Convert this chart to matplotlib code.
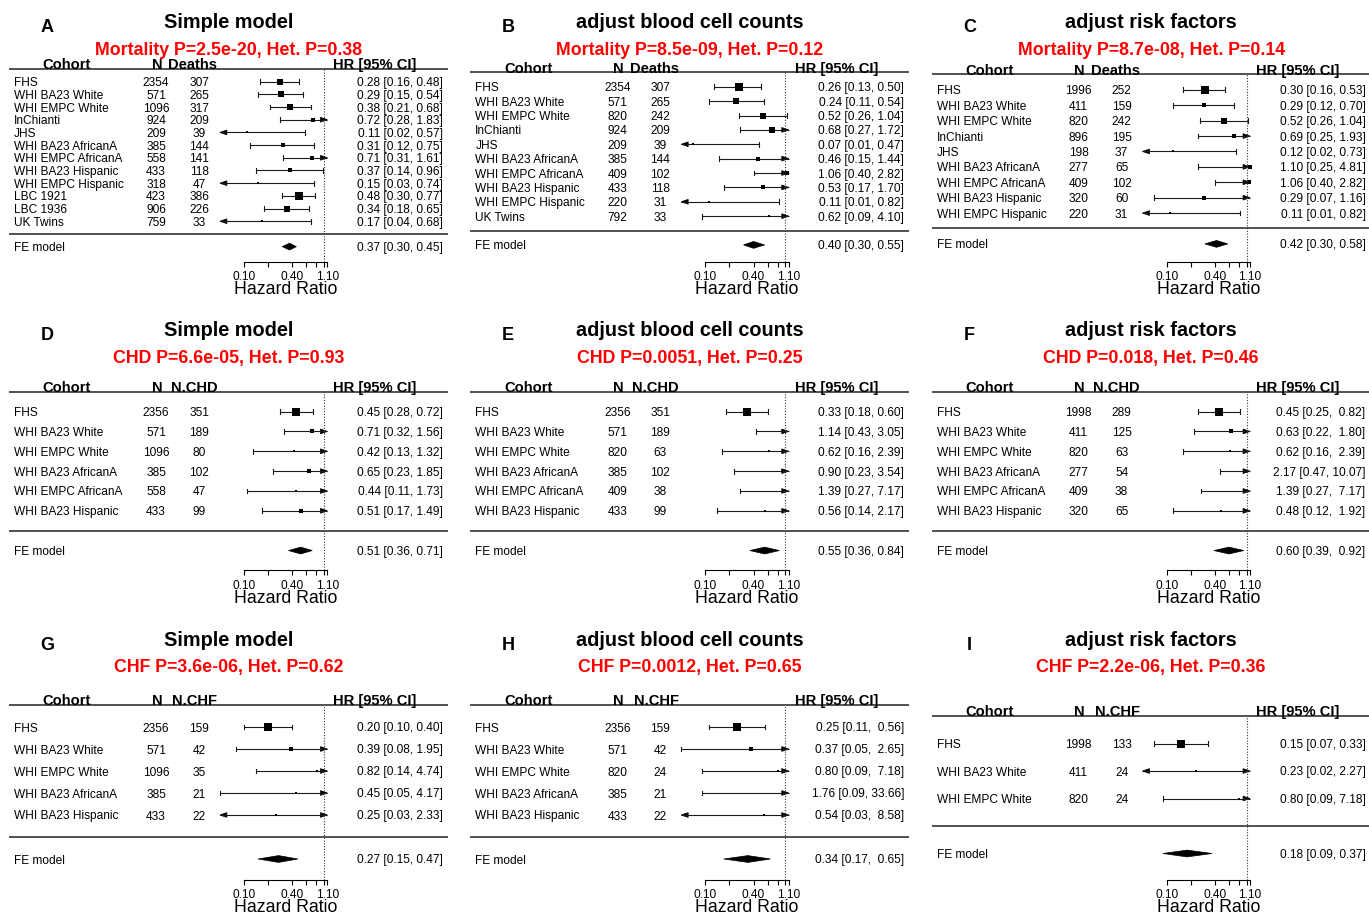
import numpy as np
import matplotlib
matplotlib.use('Agg')
import matplotlib.pyplot as plt
import matplotlib.transforms as mtransforms
from matplotlib.patches import Polygon
from matplotlib.ticker import NullLocator

plt.rcParams['font.family'] = ['Liberation Sans', 'DejaVu Sans']

# ------------------------------------------------------------------ data
titles = ['Simple model', 'adjust blood cell counts', 'adjust risk factors']
letters = ['A', 'B', 'C', 'D', 'E', 'F', 'G', 'H', 'I']
event_heads = ['Deaths', 'N.CHD', 'N.CHF']
subtitles = ['Mortality P=2.5e-20, Het. P=0.38', 'Mortality P=8.5e-09, Het. P=0.12',
             'Mortality P=8.7e-08, Het. P=0.14',
             'CHD P=6.6e-05, Het. P=0.93', 'CHD P=0.0051, Het. P=0.25', 'CHD P=0.018, Het. P=0.46',
             'CHF P=3.6e-06, Het. P=0.62', 'CHF P=0.0012, Het. P=0.65', 'CHF P=2.2e-06, Het. P=0.36']

# A: mortality, simple model
cohort_A = ['FHS', 'WHI BA23 White', 'WHI EMPC White', 'InChianti', 'JHS', 'WHI BA23 AfricanA',
            'WHI EMPC AfricanA', 'WHI BA23 Hispanic', 'WHI EMPC Hispanic', 'LBC 1921', 'LBC 1936', 'UK Twins']
n_A = [2354, 571, 1096, 924, 209, 385, 558, 433, 318, 423, 906, 759]
ev_A = [307, 265, 317, 209, 39, 144, 141, 118, 47, 386, 226, 33]
hr_A = [0.28, 0.29, 0.38, 0.72, 0.11, 0.31, 0.71, 0.37, 0.15, 0.48, 0.34, 0.17]
lo_A = [0.16, 0.15, 0.21, 0.28, 0.02, 0.12, 0.31, 0.14, 0.03, 0.30, 0.18, 0.04]
hi_A = [0.48, 0.54, 0.68, 1.83, 0.57, 0.75, 1.61, 0.96, 0.74, 0.77, 0.65, 0.68]
fe_A = [0.37, 0.30, 0.45]

# B: mortality, adjusted for blood cell counts
cohort_B = ['FHS', 'WHI BA23 White', 'WHI EMPC White', 'InChianti', 'JHS', 'WHI BA23 AfricanA',
            'WHI EMPC AfricanA', 'WHI BA23 Hispanic', 'WHI EMPC Hispanic', 'UK Twins']
n_B = [2354, 571, 820, 924, 209, 385, 409, 433, 220, 792]
ev_B = [307, 265, 242, 209, 39, 144, 102, 118, 31, 33]
hr_B = [0.26, 0.24, 0.52, 0.68, 0.07, 0.46, 1.06, 0.53, 0.11, 0.62]
lo_B = [0.13, 0.11, 0.26, 0.27, 0.01, 0.15, 0.40, 0.17, 0.01, 0.09]
hi_B = [0.50, 0.54, 1.04, 1.72, 0.47, 1.44, 2.82, 1.70, 0.82, 4.10]
fe_B = [0.40, 0.30, 0.55]

# C: mortality, adjusted for risk factors
cohort_C = ['FHS', 'WHI BA23 White', 'WHI EMPC White', 'InChianti', 'JHS', 'WHI BA23 AfricanA',
            'WHI EMPC AfricanA', 'WHI BA23 Hispanic', 'WHI EMPC Hispanic']
n_C = [1996, 411, 820, 896, 198, 277, 409, 320, 220]
ev_C = [252, 159, 242, 195, 37, 65, 102, 60, 31]
hr_C = [0.30, 0.29, 0.52, 0.69, 0.12, 1.10, 1.06, 0.29, 0.11]
lo_C = [0.16, 0.12, 0.26, 0.25, 0.02, 0.25, 0.40, 0.07, 0.01]
hi_C = [0.53, 0.70, 1.04, 1.93, 0.73, 4.81, 2.82, 1.16, 0.82]
fe_C = [0.42, 0.30, 0.58]

# D-F: CHD
cohort_D = ['FHS', 'WHI BA23 White', 'WHI EMPC White', 'WHI BA23 AfricanA', 'WHI EMPC AfricanA',
            'WHI BA23 Hispanic']
n_D = [2356, 571, 1096, 385, 558, 433]
ev_D = [351, 189, 80, 102, 47, 99]
hr_D = [0.45, 0.71, 0.42, 0.65, 0.44, 0.51]
lo_D = [0.28, 0.32, 0.13, 0.23, 0.11, 0.17]
hi_D = [0.72, 1.56, 1.32, 1.85, 1.73, 1.49]
fe_D = [0.51, 0.36, 0.71]

cohort_E = cohort_D
n_E = [2356, 571, 820, 385, 409, 433]
ev_E = [351, 189, 63, 102, 38, 99]
hr_E = [0.33, 1.14, 0.62, 0.90, 1.39, 0.56]
lo_E = [0.18, 0.43, 0.16, 0.23, 0.27, 0.14]
hi_E = [0.60, 3.05, 2.39, 3.54, 7.17, 2.17]
fe_E = [0.55, 0.36, 0.84]

cohort_F = cohort_D
n_F = [1998, 411, 820, 277, 409, 320]
ev_F = [289, 125, 63, 54, 38, 65]
hr_F = [0.45, 0.63, 0.62, 2.17, 1.39, 0.48]
lo_F = [0.25, 0.22, 0.16, 0.47, 0.27, 0.12]
hi_F = [0.82, 1.80, 2.39, 10.07, 7.17, 1.92]
fe_F = [0.60, 0.39, 0.92]

# G-I: CHF
cohort_G = ['FHS', 'WHI BA23 White', 'WHI EMPC White', 'WHI BA23 AfricanA', 'WHI BA23 Hispanic']
n_G = [2356, 571, 1096, 385, 433]
ev_G = [159, 42, 35, 21, 22]
hr_G = [0.20, 0.39, 0.82, 0.45, 0.25]
lo_G = [0.10, 0.08, 0.14, 0.05, 0.03]
hi_G = [0.40, 1.95, 4.74, 4.17, 2.33]
fe_G = [0.27, 0.15, 0.47]

cohort_H = cohort_G
n_H = [2356, 571, 820, 385, 433]
ev_H = [159, 42, 24, 21, 22]
hr_H = [0.25, 0.37, 0.80, 1.76, 0.54]
lo_H = [0.11, 0.05, 0.09, 0.09, 0.03]
hi_H = [0.56, 2.65, 7.18, 33.66, 8.58]
fe_H = [0.34, 0.17, 0.65]

cohort_I = ['FHS', 'WHI BA23 White', 'WHI EMPC White']
n_I = [1998, 411, 820]
ev_I = [133, 24, 24]
hr_I = [0.15, 0.23, 0.80]
lo_I = [0.07, 0.02, 0.09]
hi_I = [0.33, 2.27, 7.18]
fe_I = [0.18, 0.09, 0.37]

panels = [
    (cohort_A, n_A, ev_A, hr_A, lo_A, hi_A, fe_A),
    (cohort_B, n_B, ev_B, hr_B, lo_B, hi_B, fe_B),
    (cohort_C, n_C, ev_C, hr_C, lo_C, hi_C, fe_C),
    (cohort_D, n_D, ev_D, hr_D, lo_D, hi_D, fe_D),
    (cohort_E, n_E, ev_E, hr_E, lo_E, hi_E, fe_E),
    (cohort_F, n_F, ev_F, hr_F, lo_F, hi_F, fe_F),
    (cohort_G, n_G, ev_G, hr_G, lo_G, hi_G, fe_G),
    (cohort_H, n_H, ev_H, hr_H, lo_H, hi_H, fe_H),
    (cohort_I, n_I, ev_I, hr_I, lo_I, hi_I, fe_I),
]

axis_ticks = [0.1, 0.2, 0.4, 0.6, 0.8, 1.0, 1.1]
axis_labels = ['0.10', '', '0.40', '', '', '', '1.10']

# ------------------------------------------------------------------ layout (pixels)
W, H = 1369, 915
col_left = [9, 470.3, 931.6]
panel_w = 439
row_top = [43.6, 352, 661]
row_bot = [259.3, 570.4, 881]
axis_shift = [2.5, 0, -1.5]    # HR axis offset below the plot region
PPU = 34.8                     # pixels per log unit on the HR axis
LOW, HIGH = 0.05, 1.1          # CI clipping limits
XMIN = 0.1 * np.exp(-235 / PPU)
XMAX = 0.1 * np.exp(204 / PPU)
PT = 72 / 100                  # points per pixel

fig = plt.figure(figsize=(W / 100, H / 100), dpi=100)
fig.patch.set_facecolor('white')


def forest(ax, cohorts, n, ev, hr, lo, hi, fe, ev_head, shift):
    k = len(cohorts)
    hr, lo, hi = np.array(hr), np.array(lo), np.array(hi)
    ax.set_xscale('log')
    ax.set_xlim(XMIN, XMAX)
    ax.set_ylim(-2, k + 3)
    upy = (k + 5) / ax.bbox.height          # y units per pixel
    upx = np.log(XMAX / XMIN) / ax.bbox.width  # log units per pixel
    trans = mtransforms.blended_transform_factory(ax.transAxes, ax.transData)

    rows = np.arange(k, 0, -1)
    se = (np.log(hi) - np.log(lo)) / (2 * 1.96)
    w = 1 / se
    psize = 0.5 + (w - w.min()) / (w.max() - w.min())

    cap = 2.4 * upy
    ah = 2.4 * upy
    al = np.exp(7 * upx)
    wu = max(len('%.2f' % u) for u in list(hi) + [fe[2]])

    for y, est, l, u, ps, name, nn, ee in zip(rows, hr, lo, hi, psize, cohorts, n, ev):
        a, b = max(l, LOW), min(u, HIGH)
        ax.plot([a, b], [y, y], color='#1a1a1a', lw=0.8, solid_capstyle='butt')
        if l >= LOW:
            ax.plot([l, l], [y - cap, y + cap], color='#1a1a1a', lw=0.8)
        else:
            ax.add_patch(Polygon([(LOW, y), (LOW * al, y + ah), (LOW * al, y - ah)],
                                 closed=True, fc='k', ec='k', lw=0.5))
        if u <= HIGH:
            ax.plot([u, u], [y - cap, y + cap], color='#1a1a1a', lw=0.8)
        else:
            ax.add_patch(Polygon([(HIGH, y), (HIGH / al, y + ah), (HIGH / al, y - ah)],
                                 closed=True, fc='k', ec='k', lw=0.5))
        if LOW <= est <= HIGH:
            ax.plot(est, y, 's', ms=ps * 4.7 * PT, color='k', mew=0)

        ax.text(0.0114, y, name, transform=trans, ha='left', va='center_baseline', fontsize=8.6)
        ax.text(0.335, y, str(nn), transform=trans, ha='center', va='center_baseline', fontsize=8.6)
        ax.text(0.433, y, str(ee), transform=trans, ha='center', va='center_baseline', fontsize=8.6)
        ax.text(0.9886, y, '%.2f [%.2f, %*.2f]' % (est, l, wu, u), transform=trans,
                ha='right', va='center_baseline', fontsize=8.6)

    # pooled fixed-effect estimate
    dh = 3.4 * upy
    ax.add_patch(Polygon([(fe[1], -1), (fe[0], -1 + dh), (fe[2], -1), (fe[0], -1 - dh)],
                         closed=True, fc='k', ec='k', lw=0.5))
    ax.text(0.0114, -1, 'FE model', transform=trans, ha='left', va='center_baseline', fontsize=8.6)
    ax.text(0.9886, -1, '%.2f [%.2f, %*.2f]' % (fe[0], fe[1], wu, fe[2]), transform=trans,
            ha='right', va='center_baseline', fontsize=8.6)

    # separators, reference line
    ax.axhline(k + 1, color='#333333', lw=1.2)
    ax.axhline(0, color='#333333', lw=1.2)
    ax.plot([1, 1], [-2 - shift * upy, k + 1], color='#333333', lw=0.8, ls=(0, (1, 1.5)),
            clip_on=False)

    # column headers
    hy = k + 1 - 0.3 * upy
    hd = dict(transform=trans, va='baseline', fontsize=10.6, fontweight='bold')
    ax.text(0.132, hy, 'Cohort', ha='center', **hd)
    ax.text(0.337, hy, 'N', ha='center', **hd)
    ax.text(0.4745, hy, ev_head, ha='right', **hd)
    ax.text(0.834, hy, 'HR [95% CI]', ha='center', **hd)

    # HR axis
    for s in ['top', 'left', 'right']:
        ax.spines[s].set_visible(False)
    ax.spines['bottom'].set_position(('outward', shift * PT))
    ax.spines['bottom'].set_bounds(0.1, 1.1)
    ax.spines['bottom'].set_linewidth(0.8)
    ax.set_xticks(axis_ticks)
    ax.set_xticklabels(axis_labels)
    ax.xaxis.set_minor_locator(NullLocator())
    ax.tick_params(axis='x', direction='out', length=3.6, width=0.8, pad=3.0, labelsize=8.6)
    ax.set_yticks([])
    ax.patch.set_alpha(0)
    ax.annotate('Hazard Ratio', xy=(np.sqrt(0.1 * 1.1), -2), xycoords='data',
                xytext=(0, -(shift + 26) * PT), textcoords='offset points',
                ha='center', va='center_baseline', fontsize=12.7)


for i, data in enumerate(panels):
    r, c = divmod(i, 3)
    x0 = col_left[c]
    ax = fig.add_axes([x0 / W, 1 - row_bot[r] / H, panel_w / W, (row_bot[r] - row_top[r]) / H])
    forest(ax, *data, event_heads[r], axis_shift[r])

    cx = x0 + panel_w / 2
    fig.text(cx / W, 1 - (row_top[r] - 23) / H, titles[c], ha='center', va='center_baseline',
             fontsize=14.3, fontweight='bold')
    fig.text(cx / W, 1 - (row_top[r] + 4.5) / H, subtitles[i], ha='center', va='center_baseline',
             fontsize=12.8, fontweight='bold', color='#ff0000')
    fig.text((x0 + 38) / W, 1 - (row_top[r] - 18) / H, letters[i], ha='center',
             va='center_baseline', fontsize=13, fontweight='bold')

fig.savefig('out.png', dpi=100, facecolor='white')
